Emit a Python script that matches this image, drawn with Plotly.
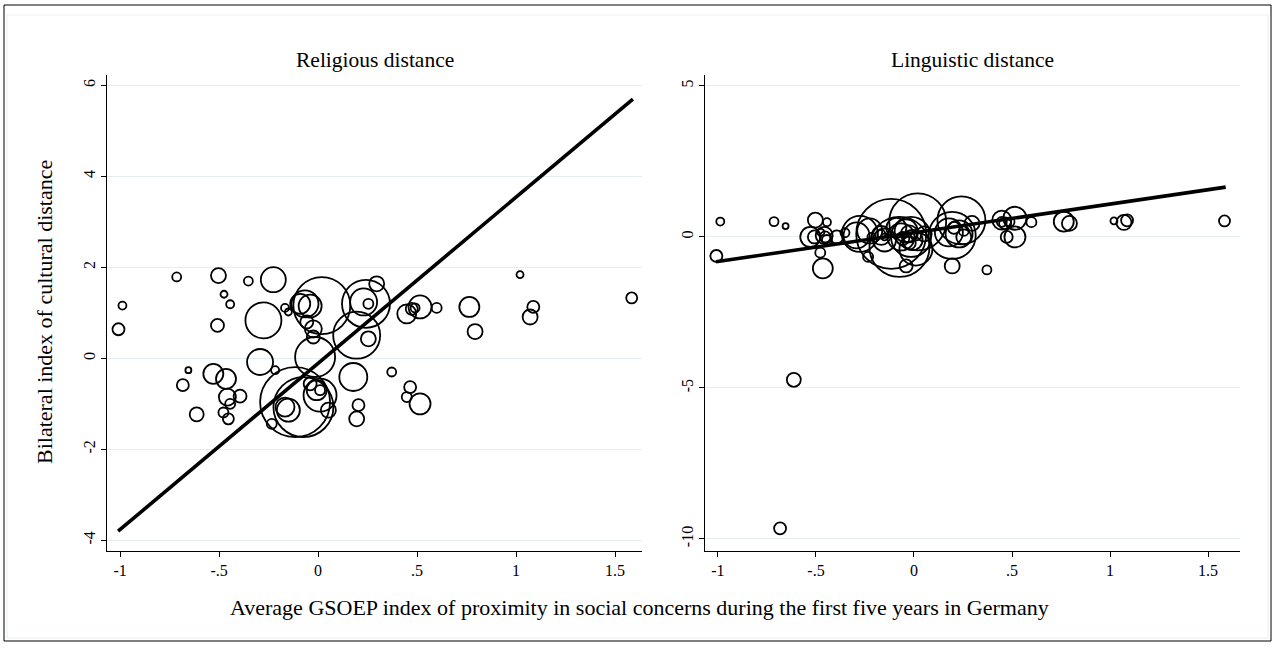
import plotly.graph_objects as go

# Countries of origin: average GSOEP proximity index (x), weights, and two distance measures
proximity = [-1.008, -0.988, -0.714, -0.683, -0.655, -0.613, -0.529, -0.503, -0.508, -0.475,
             -0.465, -0.458, -0.453, -0.444, -0.444, -0.478, -0.394, -0.352, -0.293, -0.276,
             -0.226, -0.217, -0.234, -0.167, -0.150, -0.167, -0.150, -0.116, -0.074, -0.090,
             -0.066, -0.040, -0.057, -0.024, -0.024, 0.019, -0.015, 0.010, -0.007, 0.010,
             -0.040, 0.052, 0.242, 0.254, 0.230, 0.296, 0.195, 0.254, 0.178, 0.372,
             0.204, 0.195, 0.465, 0.448, 0.515, 0.448, 0.473, 0.490, 0.515, 0.599,
             0.764, 0.793, 1.020, 1.087, 1.071, 1.584]
weight = [144, 64, 81, 144, 36, 196, 400, 225, 169, 49,
          400, 289, 121, 100, 64, 100, 169, 81, 676, 1296,
          625, 64, 100, 64, 49, 361, 529, 4900, 3600, 400,
          729, 529, 169, 289, 169, 3249, 1600, 1089, 400, 100,
          169, 225, 2304, 100, 729, 225, 2209, 225, 784, 81,
          144, 225, 144, 100, 441, 361, 144, 81, 529, 100,
          400, 225, 49, 144, 225, 121]
religious = [0.64, 1.16, 1.79, -0.59, -0.26, -1.23, -0.34, 1.82, 0.725, 1.41,
             -0.45, -0.85, -1.33, -1.00, 1.19, -1.19, -0.83, 1.70, -0.08, 0.835,
             1.73, -0.26, -1.44, 1.11, 1.02, -1.07, -1.14, -0.96, -1.07, 1.20,
             1.20, 1.15, 0.80, 0.65, 0.47, 1.16, 0.03, -0.81, -0.70, -0.70,
             -0.56, -1.14, 1.20, 1.20, 1.24, 1.64, 0.51, 0.43, -0.41, -0.30,
             -1.03, -1.33, -0.63, -0.85, -1.00, 0.98, 1.09, 1.11, 1.13, 1.11,
             1.13, 0.59, 1.84, 1.13, 0.91, 1.33]
linguistic = [-0.63, 0.51, 0.51, -9.65, 0.36, -4.73, 0.00, 0.56, 0.00, 0.15,
              -1.04, 0.05, 0.00, -0.10, 0.49, -0.52, 0.00, 0.14, 0.05, 0.10,
              0.20, 0.00, -0.66, 0.10, 0.00, 0.05, -0.10, 0.10, -0.33, 0.30,
              0.00, 0.20, -0.05, 0.10, -0.20, 0.50, 0.00, -0.40, -0.10, 0.05,
              -0.96, 0.10, 0.55, 0.20, 0.10, 0.45, 0.05, 0.00, 0.15, -1.09,
              0.30, -0.96, 0.45, 0.50, 0.00, 0.56, 0.00, 0.50, 0.62, 0.49,
              0.51, 0.45, 0.53, 0.55, 0.48, 0.53]

# Weighted linear fits (endpoints over the data range)
fit_x = [-1.01, 1.59]
religious_fit = [-3.80, 5.70]
linguistic_fit = [-0.82, 1.65]

panel_titles = ["Religious distance", "Linguistic distance"]
x_ticks = [-1, -0.5, 0, 0.5, 1, 1.5]
x_tick_labels = ["-1", "-.5", "0", ".5", "1", "1.5"]
rel_ticks = [-4, -2, 0, 2, 4, 6]
rel_tick_labels = ["-4", "-2", "0", "2", "4", "6"]
ling_ticks = [-10, -5, 0, 5]
ling_tick_labels = ["-10", "-5", "0", "5"]

W, H = 1276, 648
FONT = "Liberation Serif"
max_d = 70
sizeref = 2 * max(weight) / (max_d ** 2)

fig = go.Figure()

def add_panel(yvals, yfit, xa, ya):
    fig.add_trace(go.Scatter(
        x=proximity, y=yvals, mode="markers", xaxis=xa, yaxis=ya,
        marker=dict(size=weight, sizemode="area", sizeref=sizeref, opacity=1,
                    color="rgba(0,0,0,0)", line=dict(color="black", width=1.8)),
        hoverinfo="skip", showlegend=False))
    fig.add_trace(go.Scatter(
        x=fit_x, y=yfit, mode="lines", xaxis=xa, yaxis=ya,
        line=dict(color="black", width=3.6), hoverinfo="skip", showlegend=False))

add_panel(religious, religious_fit, "x", "y")
add_panel(linguistic, linguistic_fit, "x2", "y2")

yb, yt = 1 - 551 / H, 1 - 75 / H
axis_common = dict(showline=True, linecolor="black", linewidth=1, ticks="outside",
                   ticklen=5, tickcolor="black", tickwidth=1, zeroline=False,
                   tickfont=dict(family=FONT, size=16, color="black"))
fig.update_layout(
    width=W, height=H, margin=dict(l=0, r=0, t=0, b=0),
    paper_bgcolor="white", plot_bgcolor="white",
    xaxis=dict(domain=[107 / W, 642 / W], range=[-1.066, 1.636], anchor="y",
               tickvals=x_ticks, ticktext=x_tick_labels, showgrid=False, **axis_common),
    yaxis=dict(domain=[yb, yt], range=[-4.235, 6.23], anchor="x", tickvals=rel_ticks,
               ticktext=rel_tick_labels, tickangle=-90, showgrid=True,
               gridcolor="#e4eef0", gridwidth=1, **axis_common),
    xaxis2=dict(domain=[705 / W, 1240 / W], range=[-1.066, 1.663], anchor="y2",
                tickvals=x_ticks, ticktext=x_tick_labels, showgrid=False, **axis_common),
    yaxis2=dict(domain=[yb, yt], range=[-10.40, 5.364], anchor="x2", tickvals=ling_ticks,
                ticktext=ling_tick_labels, tickangle=-90, showgrid=True,
                gridcolor="#e4eef0", gridwidth=1, **axis_common),
)

annotations = [
    dict(text=panel_titles[0], x=(107 + 642) / 2 / W, y=1 - 60 / H, xref="paper", yref="paper",
         xanchor="center", yanchor="middle", showarrow=False,
         font=dict(family=FONT, size=21.5, color="black")),
    dict(text=panel_titles[1], x=(705 + 1240) / 2 / W, y=1 - 60 / H, xref="paper", yref="paper",
         xanchor="center", yanchor="middle", showarrow=False,
         font=dict(family=FONT, size=21.5, color="black")),
    dict(text="Bilateral index of cultural distance", x=45 / W, y=1 - 312 / H,
         xref="paper", yref="paper", xanchor="center", yanchor="middle",
         showarrow=False, textangle=-90,
         font=dict(family=FONT, size=22, color="black")),
    dict(text="Average GSOEP index of proximity in social concerns during the first five years in Germany",
         x=640 / W, y=1 - 607 / H, xref="paper", yref="paper", xanchor="center", yanchor="middle",
         showarrow=False, font=dict(family=FONT, size=22, color="black")),
]
fig.update_layout(annotations=annotations)

fig.add_shape(type="rect", xref="paper", yref="paper", x0=7 / W, x1=1268 / W,
              y0=1 - 638 / H, y1=1 - 15 / H, line=dict(color="#e8f0f2", width=1))
fig.add_shape(type="rect", xref="paper", yref="paper", x0=4 / W, x1=1271 / W,
              y0=1 - 641 / H, y1=1 - 5 / H, line=dict(color="black", width=1))

fig.write_html("out.html", config={"displayModeBar": False},
               post_script="document.body.style.margin='0';")
